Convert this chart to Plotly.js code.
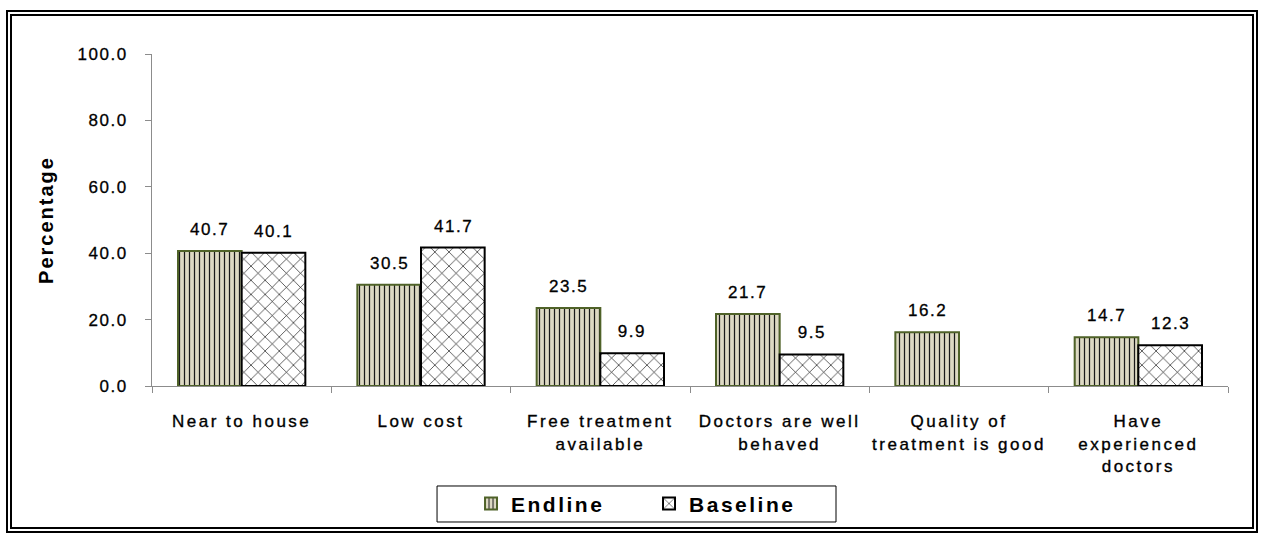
<!DOCTYPE html>
<html>
<head>
<meta charset="utf-8">
<script src="https://cdn.plot.ly/plotly-3.0.1.min.js"></script>
<style>
  html, body { margin: 0; padding: 0; background: #fff; }
  #wrap { position: relative; width: 1262px; height: 535px; }
  #chart { position: absolute; left: 0; top: 0; width: 1262px; height: 535px; }
  #frame { position: absolute; left: 6px; top: 10px; width: 1252px; height: 523px;
           box-sizing: border-box; border: 6px double #000; pointer-events: none; }
  #chart .xtick text { letter-spacing: 2.5px; stroke: #000; stroke-width: 0.35px; }
  #chart .ytick text { letter-spacing: 1.5px; stroke: #000; stroke-width: 0.3px; }
  #chart .annotation-text { letter-spacing: 1.5px; stroke: #000; stroke-width: 0.3px; }
  #chart .legendtext { letter-spacing: 2.5px; }
  #chart .ytitle { letter-spacing: 2px; }
</style>
</head>
<body>
<div id="wrap">
  <div id="chart"></div>
  <div id="frame"></div>
</div>
<script>
const categories = [
  "Near to house",
  "Low cost",
  "Free treatment<br>available",
  "Doctors are well<br>behaved",
  "Quality of<br>treatment is good",
  "Have<br>experienced<br>doctors"
];
const endline = [40.7, 30.5, 23.5, 21.7, 16.2, 14.7];
const baseline = [40.1, 41.7, 9.9, 9.5, null, 12.3];
const yTicks = [0, 20, 40, 60, 80, 100];

const FONT = "Arial, 'Liberation Sans', sans-serif";

const traces = [
  {
    type: "bar", name: "Endline", x: categories, y: endline,
    marker: {
      color: "#DDD9C3",
      line: { color: "#4F6228", width: 2 },
      pattern: { shape: "|", fgcolor: "#1a1a1a", bgcolor: "#DDD9C3", size: 5, solidity: 0.25, fillmode: "replace" }
    },
    hoverinfo: "skip"
  },
  {
    type: "bar", name: "Baseline", x: categories, y: baseline,
    marker: {
      color: "#ffffff",
      line: { color: "#000000", width: 2 },
      pattern: { shape: "x", fgcolor: "#000000", bgcolor: "#ffffff", size: 10, solidity: 0.12, fillmode: "replace" }
    },
    hoverinfo: "skip"
  }
];

const annotations = [];
[[endline, -32], [baseline, 32]].forEach(([vals, shift]) => {
  vals.forEach((v, i) => {
    if (v === null) return;
    annotations.push({
      x: categories[i], y: v, xref: "x", yref: "y",
      xshift: shift, yshift: 10, yanchor: "bottom",
      text: v.toFixed(1), showarrow: false,
      font: { family: FONT, size: 17, color: "#000" }
    });
  });
});

const layout = {
  width: 1262, height: 535,
  margin: { l: 152, r: 34, t: 54, b: 149, autoexpand: false },
  paper_bgcolor: "#fff", plot_bgcolor: "#fff",
  font: { family: FONT, color: "#000" },
  barmode: "group", bargap: 0.29, bargroupgap: 0,
  showlegend: true,
  legend: {
    orientation: "h", x: 0.2965, xanchor: "left", y: -0.355, yanchor: "middle",
    borderwidth: 0, bgcolor: "rgba(0,0,0,0)",
    font: { family: FONT, size: 21, weight: "bold", color: "#000" },
    entrywidth: 133, entrywidthmode: "pixels", itemwidth: 30,
    traceorder: "normal"
  },
  shapes: [{
    type: "rect", xref: "paper", yref: "paper",
    x0: 0.2649, x1: 0.6357, y0: -0.4096, y1: -0.3012,
    line: { color: "#000", width: 1 }, fillcolor: "rgba(0,0,0,0)", layer: "below"
  }],
  xaxis: {
    type: "category", automargin: false,
    showline: true, linecolor: "#8c8c8c", linewidth: 1,
    ticks: "outside", tickson: "boundaries", ticklen: 6, tickcolor: "#8c8c8c",
    tickfont: { family: FONT, size: 17, color: "#000" },
    ticklabelstandoff: 20,
    showgrid: false, zeroline: false, fixedrange: true
  },
  yaxis: {
    range: [0, 100], tickvals: yTicks, tickformat: ".1f", automargin: false,
    showline: true, linecolor: "#8c8c8c", linewidth: 1,
    ticks: "outside", ticklen: 6, tickcolor: "#8c8c8c",
    tickfont: { family: FONT, size: 17, color: "#000" },
    ticklabelstandoff: 14,
    showgrid: false, zeroline: false, fixedrange: true,
    title: { text: "Percentage", standoff: 26, font: { family: FONT, size: 20, weight: "bold", color: "#000" } }
  },
  annotations: annotations
};

Plotly.newPlot("chart", traces, layout, { staticPlot: true, displayModeBar: false });
</script>
</body>
</html>
